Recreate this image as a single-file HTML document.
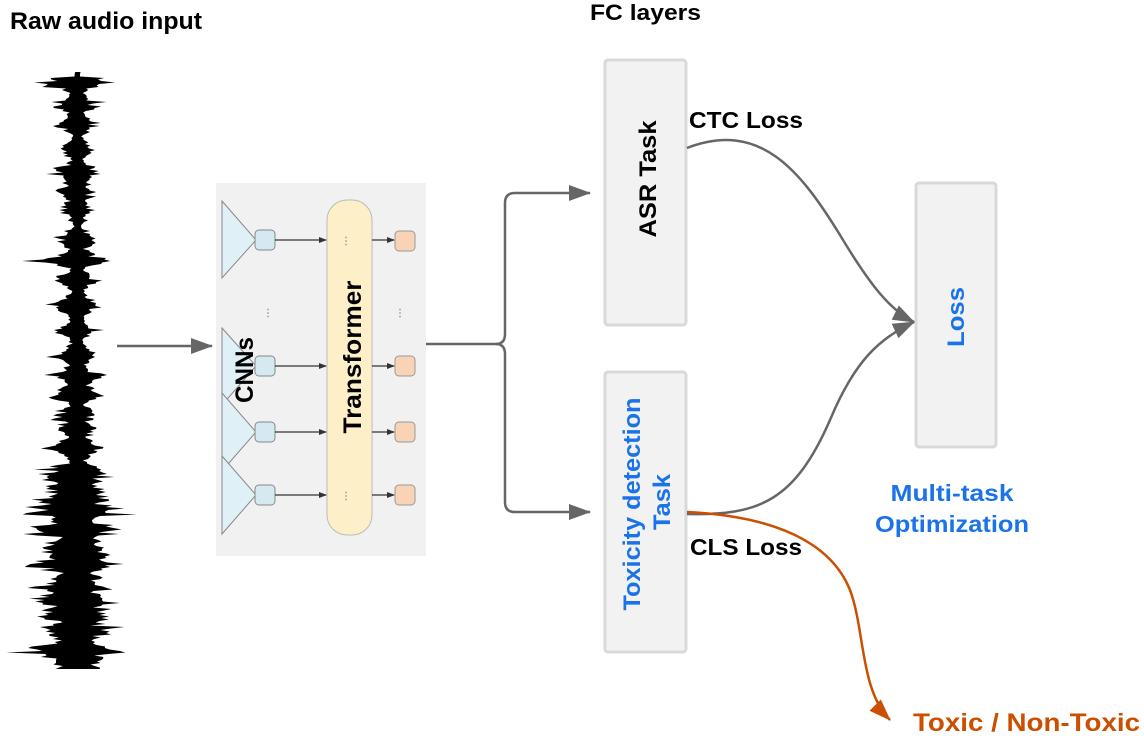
<!DOCTYPE html>
<html><head><meta charset="utf-8">
<style>html,body{margin:0;padding:0;background:#fff;}svg{display:block;}
text{font-family:"Liberation Sans",Arial,sans-serif;font-weight:bold;}</style></head>
<body>
<svg id="s" width="1144" height="740" viewBox="0 0 1144 740" xmlns="http://www.w3.org/2000/svg">
<defs>
<marker id="ag2" markerWidth="22" markerHeight="16" refX="21" refY="8" orient="auto" markerUnits="userSpaceOnUse"><path d="M0,0 L22,8 L0,16 Z" fill="#666"/></marker>
<marker id="ao" markerWidth="22" markerHeight="16" refX="21" refY="8" orient="auto" markerUnits="userSpaceOnUse"><path d="M0,0 L22,8 L0,16 Z" fill="#cc4e00"/></marker>
<marker id="as" markerWidth="8" markerHeight="8" refX="7" refY="4" orient="auto" markerUnits="userSpaceOnUse"><path d="M0,1 L8,4 L0,7 Z" fill="#333"/></marker>
</defs>
<text x="10" y="29" font-size="24" textLength="192" lengthAdjust="spacingAndGlyphs" fill="#000">Raw audio input</text>
<text x="590" y="20" font-size="22" textLength="111" lengthAdjust="spacingAndGlyphs" fill="#000">FC layers</text>
<g id="wave"></g>
<line x1="117" y1="346" x2="212" y2="346" stroke="#666" stroke-width="2.5" marker-end="url(#ag2)"/>
<rect x="216" y="183" width="210" height="373" fill="#f1f1f1"/>
<g stroke="#888" stroke-width="1" fill="#dff0f6">
<polygon points="222,201 256,240 222,278"/>
<polygon points="222,328 256,366 222,405"/>
<polygon points="222,393 256,432 222,471"/>
<polygon points="222,456 256,495 222,534"/>
</g>
<g stroke="#888" stroke-width="1" fill="#d5e9f1">
<rect x="255" y="230" width="20" height="20" rx="4"/>
<rect x="255" y="356" width="20" height="20" rx="4"/>
<rect x="255" y="422" width="20" height="20" rx="4"/>
<rect x="255" y="485" width="20" height="20" rx="4"/>
</g>
<rect x="327" y="200" width="45" height="335" rx="20" fill="#fdf0c8" stroke="#bbb" stroke-width="1"/>
<g stroke="#333" stroke-width="1.3">
<line x1="275" y1="240" x2="326" y2="240" marker-end="url(#as)"/>
<line x1="275" y1="366" x2="326" y2="366" marker-end="url(#as)"/>
<line x1="275" y1="432" x2="326" y2="432" marker-end="url(#as)"/>
<line x1="275" y1="495" x2="326" y2="495" marker-end="url(#as)"/>
<line x1="372" y1="240" x2="394" y2="240" marker-end="url(#as)"/>
<line x1="372" y1="366" x2="394" y2="366" marker-end="url(#as)"/>
<line x1="372" y1="432" x2="394" y2="432" marker-end="url(#as)"/>
<line x1="372" y1="495" x2="394" y2="495" marker-end="url(#as)"/>
</g>
<g stroke="#999" stroke-width="1" fill="#f8d3b5">
<rect x="395" y="231" width="20" height="20" rx="4"/>
<rect x="395" y="356" width="20" height="20" rx="4"/>
<rect x="395" y="422" width="20" height="20" rx="4"/>
<rect x="395" y="485" width="20" height="20" rx="4"/>
</g>
<g fill="#999" font-size="10"><text x="268" y="316" text-anchor="middle">⋮</text><text x="400" y="316" text-anchor="middle">⋮</text><text x="346" y="244" text-anchor="middle">⋮</text><text x="346" y="499" text-anchor="middle">⋮</text></g>
<text transform="translate(253,370) rotate(-90)" font-size="25" text-anchor="middle" textLength="66" lengthAdjust="spacingAndGlyphs" fill="#000">CNNs</text>
<text transform="translate(361,357) rotate(-90)" font-size="25" text-anchor="middle" textLength="153" lengthAdjust="spacingAndGlyphs" fill="#000">Transformer</text>
<path d="M426,344 L496,344 Q505,344 505,334 L505,203 Q505,193 515,193 L590,193" fill="none" stroke="#666" stroke-width="2.5" marker-end="url(#ag2)"/>
<path d="M496,344 Q505,344 505,354 L505,502 Q505,512 515,512 L590,512" fill="none" stroke="#666" stroke-width="2.5" marker-end="url(#ag2)"/>
<rect x="605" y="60" width="81" height="265" rx="3" fill="#f2f2f2" stroke="#d9d9d9" stroke-width="3"/>
<rect x="605" y="372" width="81" height="280" rx="3" fill="#f2f2f2" stroke="#d9d9d9" stroke-width="3"/>
<rect x="916" y="183" width="80" height="264" rx="3" fill="#f2f2f2" stroke="#d9d9d9" stroke-width="3"/>
<text transform="translate(656,179) rotate(-90)" font-size="24" text-anchor="middle" textLength="117" lengthAdjust="spacingAndGlyphs" fill="#000">ASR Task</text>
<text transform="translate(640,504) rotate(-90)" font-size="24" text-anchor="middle" textLength="213" lengthAdjust="spacingAndGlyphs" fill="#1a73e8">Toxicity detection</text>
<text transform="translate(670,502) rotate(-90)" font-size="24" text-anchor="middle" textLength="56" lengthAdjust="spacingAndGlyphs" fill="#1a73e8">Task</text>
<text transform="translate(964,317) rotate(-90)" font-size="24" text-anchor="middle" textLength="60" lengthAdjust="spacingAndGlyphs" fill="#1a73e8">Loss</text>
<text x="689" y="128" font-size="23" textLength="114" lengthAdjust="spacingAndGlyphs" fill="#000">CTC Loss</text>
<text x="690" y="555" font-size="23" textLength="112" lengthAdjust="spacingAndGlyphs" fill="#000">CLS Loss</text>
<text x="952" y="501" font-size="23" text-anchor="middle" textLength="123" lengthAdjust="spacingAndGlyphs" fill="#1a73e8">Multi-task</text>
<text x="952" y="532" font-size="23" text-anchor="middle" textLength="154" lengthAdjust="spacingAndGlyphs" fill="#1a73e8">Optimization</text>
<text x="913" y="731" font-size="25" textLength="227" lengthAdjust="spacingAndGlyphs" fill="#cc4e00">Toxic / Non-Toxic</text>
<path d="M687,148 C760,120 800,170 840,235 C870,285 890,310 914,322" fill="none" stroke="#666" stroke-width="2.5" marker-end="url(#ag2)"/>
<path d="M687,514 C760,516 795,500 830,420 C855,360 880,338 914,322" fill="none" stroke="#666" stroke-width="2.5" marker-end="url(#ag2)"/>
<path d="M687,512 C770,516 830,540 850,590 C865,630 860,690 890,720" fill="none" stroke="#cc4e00" stroke-width="2.5" marker-end="url(#ao)"/>
</svg>
<script>
(function(){
var cx=78,seed=11;function r(){seed=(seed*9301+49297)%233280;return seed/233280;}
var bursts=[[82,30],[105,18],[125,20],[150,16],[172,22],[192,16],[210,12],[240,18],[260,26],[280,18],[305,28],[330,20],[355,16],[375,22],[395,26],[415,18],[430,14],[448,28],[470,24],[482,20],[500,24],[512,40],[530,34],[550,30],[565,36],[585,26],[600,34],[615,30],[632,24],[650,30],[664,18]];
var L=[],R=[];
for(var y=72;y<=670;y+=1.5){
 var t=(y-70)/600;
 var e=(t>0.66?14:6);
 for(var i=0;i<bursts.length;i++){var d=(y-bursts[i][0])/7;e+=bursts[i][1]*Math.exp(-d*d);}
 var w=e*(0.55+r()*0.55);
 if(r()<0.08) w=e*(1.1+r()*0.5);
 if(y<78)w=3;
 var a=0.8+r()*0.4;
 L.push((cx-w*a).toFixed(1)+","+y.toFixed(1));
 R.push((cx+w*(1.8-a)).toFixed(1)+","+y.toFixed(1));
}
var p=document.createElementNS("http://www.w3.org/2000/svg","polygon");
p.setAttribute("points",R.concat(L.reverse()).join(" "));
p.setAttribute("fill","#000");
document.getElementById("wave").appendChild(p);
})();
</script>
</body></html>
